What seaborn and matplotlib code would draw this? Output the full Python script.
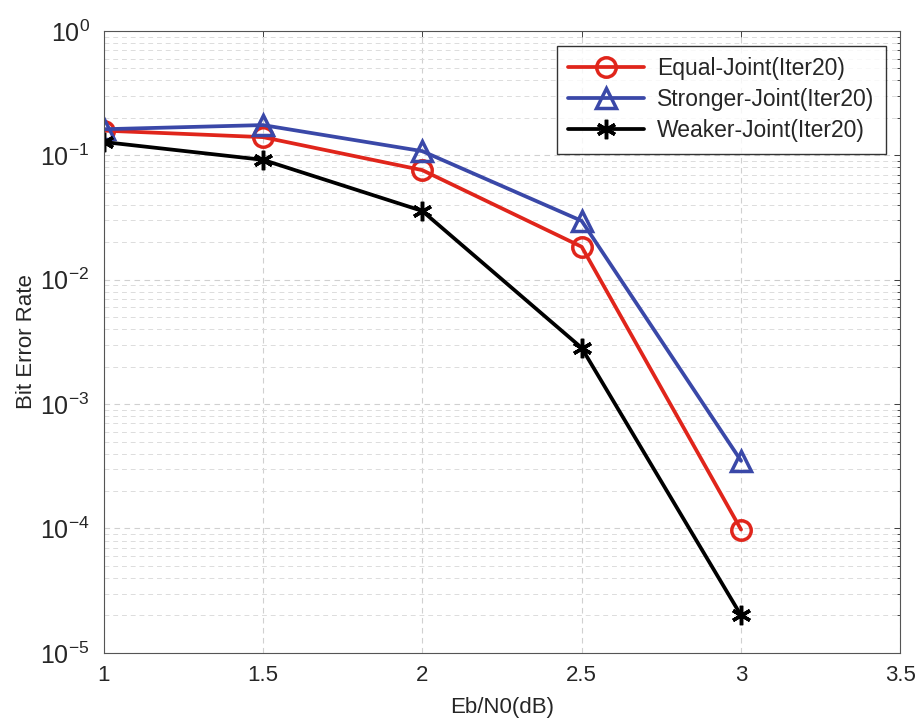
import matplotlib
matplotlib.use("Agg")
import numpy as np
import pandas as pd
import seaborn as sns
import matplotlib.pyplot as plt
from matplotlib.ticker import LogLocator, NullFormatter, FixedLocator

# data
ebn0 = [1.0, 1.5, 2.0, 2.5, 3.0]
equal_ber = [0.158, 0.14, 0.076, 0.0184, 9.8e-5]
stronger_ber = [0.162, 0.175, 0.108, 0.0297, 3.5e-4]
weaker_ber = [0.128, 0.092, 0.0357, 0.00283, 2.0e-5]
labels = ["Equal-Joint(Iter20)", "Stronger-Joint(Iter20)", "Weaker-Joint(Iter20)"]
colors = ["#e0251b", "#3a48a8", "#000000"]
markers = ["o", "^", (6, 2, 0)]

sns.set_style("white")
plt.rcParams["font.family"] = ["Liberation Sans", "DejaVu Sans"]
plt.rcParams["mathtext.fontset"] = "custom"
plt.rcParams["mathtext.rm"] = "Liberation Sans"

fig, ax = plt.subplots(figsize=(9.16, 7.19), dpi=100)
fig.subplots_adjust(left=0.113, right=0.983, top=0.957, bottom=0.092)

series = [equal_ber, stronger_ber, weaker_ber]
for lab, vals, c, m in zip(labels, series, colors, markers):
    df = pd.DataFrame({"x": ebn0, "y": vals})
    sns.lineplot(data=df, x="x", y="y", ax=ax, color=c, linewidth=2.7,
                 marker=m, markersize=14 if m != "^" else 15,
                 markerfacecolor="none", markeredgecolor=c,
                 markeredgewidth=2.5, label=lab)

ax.set_yscale("log")
ax.set_xlim(1, 3.5)
ax.set_ylim(1e-5, 1)
ax.set_xticks([1, 1.5, 2, 2.5, 3, 3.5])
ax.set_xticklabels(["1", "1.5", "2", "2.5", "3", "3.5"])
ax.yaxis.set_major_locator(FixedLocator([1e-5, 1e-4, 1e-3, 1e-2, 1e-1, 1]))
ax.set_yticklabels([r"$10^{%d}$" % e for e in [-5, -4, -3, -2, -1, 0]])
ax.yaxis.set_minor_locator(LogLocator(base=10, subs=np.arange(2, 10)))
ax.yaxis.set_minor_formatter(NullFormatter())

ax.grid(True, which="major", linestyle=(0, (5, 4)), color="#d0d0d0", linewidth=0.8)
ax.grid(True, which="minor", axis="y", linestyle=(0, (5, 4)), color="#dcdcdc", linewidth=0.7)
ax.tick_params(axis="both", which="both", direction="in", top=True, right=True,
               length=4, width=0.6)
ax.tick_params(axis="x", labelsize=16, pad=9)
ax.tick_params(axis="y", labelsize=18, pad=10)
ax.tick_params(axis="y", which="minor", length=2)
for s in ax.spines.values():
    s.set_color("#555555")
    s.set_linewidth(0.8)

ax.set_xlabel("Eb/N0(dB)", fontsize=16, labelpad=8)
ax.set_ylabel("Bit Error Rate", fontsize=16, labelpad=2)

leg = ax.legend(loc="upper right", fontsize=16.5, frameon=True, fancybox=False,
                edgecolor="black", handlelength=3.3, borderpad=0.5,
                labelspacing=0.35, handletextpad=0.6, borderaxespad=0,
                bbox_to_anchor=(0.982, 0.976))
leg.get_frame().set_linewidth(1.0)

fig.savefig("out.png", dpi=100, facecolor="white")
